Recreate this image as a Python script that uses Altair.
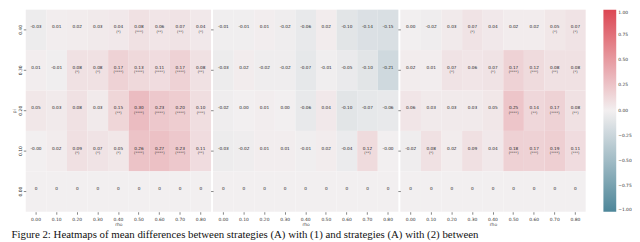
import altair as alt
import pandas as pd

rho_labels = ["0.00", "0.10", "0.20", "0.30", "0.40", "0.50", "0.60", "0.70", "0.80"]
pi_labels = ["0.40", "0.30", "0.20", "0.10", "0.00"]

p1_values = [
    [-0.03, 0.01, 0.02, 0.03, 0.04, 0.08, 0.06, 0.07, 0.04],
    [0.01, -0.01, 0.08, 0.08, 0.17, 0.13, 0.11, 0.17, 0.08],
    [0.05, 0.03, 0.08, 0.03, 0.15, 0.30, 0.23, 0.20, 0.10],
    [-0.001, 0.02, 0.09, 0.07, 0.05, 0.26, 0.27, 0.23, 0.11],
    [0, 0, 0, 0, 0, 0, 0, 0, 0],
]
p1_stars = [
    ["", "", "", "", "(*)", "(***)", "(**)", "(**)", "(*)"],
    ["", "", "(*)", "(*)", "(****)", "(****)", "(****)", "(****)", "(**)"],
    ["", "", "", "", "(**)", "(****)", "(****)", "(****)", "(***)"],
    ["", "", "(*)", "(*)", "(*)", "(****)", "(****)", "(****)", "(**)"],
    ["", "", "", "", "", "", "", "", ""],
]

p2_values = [
    [-0.01, -0.01, 0.01, -0.02, -0.06, 0.02, -0.10, -0.14, -0.15],
    [-0.03, 0.02, -0.02, -0.02, -0.07, -0.01, -0.05, -0.10, -0.21],
    [-0.02, 0.001, 0.01, 0.001, -0.06, 0.04, -0.10, -0.07, -0.06],
    [-0.03, -0.02, 0.01, 0.01, -0.01, 0.02, -0.04, 0.12, -0.001],
    [0, 0, 0, 0, 0, 0, 0, 0, 0],
]
p2_stars = [
    ["", "", "", "", "", "", "", "", ""],
    ["", "", "", "", "", "", "", "", ""],
    ["", "", "", "", "", "", "", "", ""],
    ["", "", "", "", "", "", "", "(**)", ""],
    ["", "", "", "", "", "", "", "", ""],
]

p3_values = [
    [0.001, -0.02, 0.03, 0.07, 0.04, 0.02, 0.02, 0.05, 0.07],
    [0.02, 0.01, 0.07, 0.06, 0.07, 0.17, 0.12, 0.08, 0.08],
    [0.06, 0.03, 0.03, 0.03, 0.05, 0.25, 0.14, 0.17, 0.08],
    [-0.02, 0.08, 0.02, 0.09, 0.04, 0.18, 0.17, 0.19, 0.11],
    [0, 0, 0, 0, 0, 0, 0, 0, 0],
]
p3_stars = [
    ["", "", "", "(*)", "", "", "", "(*)", "(*)"],
    ["", "", "(*)", "", "(*)", "(****)", "(***)", "(**)", "(*)"],
    ["", "", "", "", "", "(****)", "(**)", "(****)", "(**)"],
    ["", "(*)", "", "", "", "(****)", "(***)", "(****)", "(***)"],
    ["", "", "", "", "", "", "", "", ""],
]

legend_ticks = [1.0, 0.75, 0.5, 0.25, 0.0, -0.25, -0.5, -0.75, -1.0]
caption = "Figure 2:  Heatmaps of mean differences between strategies (A) with (1) and strategies (A) with (2) between"


def fmt(v):
    return "0" if v == 0 else f"{v:.2f}"


panels = [(p1_values, p1_stars), (p2_values, p2_stars), (p3_values, p3_stars)]
rows = []
for k, (vals, stars) in enumerate(panels):
    for i, pi in enumerate(pi_labels):
        for j, rho in enumerate(rho_labels):
            rows.append(dict(panel=k, pi=pi, rho=rho, value=vals[i][j],
                             label=fmt(vals[i][j]), stars=stars[i][j]))
df = pd.DataFrame(rows)

color = alt.Color(
    "value:Q",
    scale=alt.Scale(domain=[-1, 0, 1], range=["#4d8699", "#f2eff0", "#dc4652"], interpolate="rgb"),
    legend=alt.Legend(
        title=None, values=legend_ticks, format=".2f", gradientLength=205,
        gradientThickness=13, labelFontSize=4.5, labelColor="#333333",
        gradientStrokeWidth=0, labelOverlap=False, offset=18, padding=0,
        labelPadding=3,
    ),
)

W, H = 188, 205


def panel(k, show_y):
    base = alt.Chart(df).transform_filter(alt.datum.panel == k)
    x = alt.X("rho:O", sort=rho_labels, title="rho",
              axis=alt.Axis(labelAngle=0, labelFontSize=4.5, titleFontSize=4.5,
                            tickSize=2.5, tickWidth=0.6, tickColor="#333333",
                            domain=False, labelPadding=2, titlePadding=1,
                            labelColor="#333333", titleColor="#333333", titleFontWeight="normal"))
    y = alt.Y("pi:O", sort=pi_labels, title="pi" if show_y else None,
              axis=alt.Axis(labels=show_y, labelAngle=-90, labelFontSize=4.5, titleFontSize=4.5,
                            tickSize=2.5, tickWidth=0.6, tickColor="#333333",
                            domain=False, labelPadding=1, titlePadding=1,
                            labelColor="#333333", titleColor="#333333", titleFontWeight="normal"))
    rect = base.mark_rect().encode(x=x, y=y, color=color)
    txt = base.mark_text(dy=-2.5, fontSize=4.3, color="#2a2a2a").encode(x=x, y=y, text="label:N")
    st = base.mark_text(dy=2.2, fontSize=3.6, color="#2a2a2a").encode(x=x, y=y, text="stars:N")
    return alt.layer(rect, txt, st).properties(width=W, height=H)


chart = alt.hconcat(panel(0, True), panel(1, False), panel(2, False), spacing=2, bounds="flush").properties(
    padding={"left": 3, "top": 0, "right": 0, "bottom": 0},
    title=alt.TitleParams(caption, orient="bottom", anchor="start", font="Liberation Serif",
                          fontSize=11, fontWeight="normal", color="#111111", offset=3),
).configure(font="DejaVu Sans").configure_view(stroke=None)

chart.save("out.html", embed_options={"renderer": "svg", "actions": False})
